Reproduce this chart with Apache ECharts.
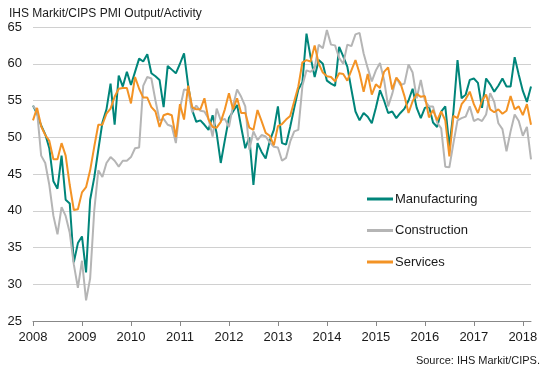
<!DOCTYPE html>
<html>
<head>
<meta charset="utf-8">
<script src="https://cdn.jsdelivr.net/npm/echarts@6/dist/echarts.min.js"></script>
<style>
html,body{margin:0;padding:0;background:#fff;}
#chart{width:550px;height:366px;}
</style>
</head>
<body>
<div id="chart"></div>
<script>
var years = [2008, 2009, 2010, 2011, 2012, 2013, 2014, 2015, 2016, 2017, 2018];
var lastYearMonths = 3;
var seriesNames = ['Manufacturing', 'Construction', 'Services'];
var seriesColors = ['#00857a', '#b5b5b5', '#f39325'];

var manufacturing = [
  54.3, 53.2, 51.6, 50.4, 48.5, 44.0, 43.0, 47.5, 41.5, 41.0, 33.0, 35.6,
  36.5, 31.6, 41.5, 44.5, 48.3, 52.0, 53.8, 57.3, 51.7, 58.4, 56.9, 58.9,
  57.1, 58.9, 60.7, 60.3, 61.3, 58.7, 58.3, 57.8, 54.1, 59.7, 59.2, 58.7,
  60.0, 61.4, 57.1, 53.7, 52.1, 52.3, 51.7, 51.0, 53.0, 50.5, 46.5, 49.6,
  52.6, 53.5, 54.4, 51.4, 48.5, 50.0, 43.5, 49.2, 48.0, 47.1, 49.5, 51.0,
  54.2, 49.2, 49.0, 51.4, 54.0, 56.5, 57.5, 64.1, 60.9, 58.2, 60.5, 60.0,
  57.7, 57.3, 57.0, 62.3, 61.0, 59.6, 56.5, 53.5, 52.3, 53.3, 52.8, 51.9,
  54.0, 56.4, 55.0, 53.3, 53.5, 52.6, 53.3, 53.9, 55.0, 56.6, 54.0, 52.6,
  54.0, 54.2, 52.0, 51.4, 53.5, 54.2, 48.7, 53.5, 60.5, 55.3, 55.8, 57.8,
  58.0, 57.4, 54.0, 58.0, 57.2, 56.2, 57.0, 58.0, 56.9, 56.9, 60.9, 58.5,
  56.3, 54.8, 56.9
];
var construction = [
  54.3, 53.5, 47.5, 46.5, 43.5, 39.3, 36.8, 40.5, 39.3, 37.0, 32.7, 29.5,
  33.2, 27.8, 30.8, 40.0, 45.5, 44.6, 46.5, 47.3, 46.8, 46.0, 46.8, 46.8,
  47.3, 48.5, 48.6, 57.0, 58.2, 58.0, 55.0, 52.3, 52.5, 51.7, 51.5, 49.2,
  53.9, 56.5, 56.4, 53.4, 54.3, 53.6, 53.5, 52.5, 50.1, 53.9, 52.3, 52.5,
  51.4, 54.3, 56.5, 55.5, 54.2, 48.3, 50.8, 49.6, 50.3, 50.1, 49.3, 48.7,
  48.6, 46.8, 47.2, 49.4, 50.8, 51.0, 57.0, 59.1, 58.9, 59.4, 62.6, 62.1,
  64.6, 62.6, 62.5, 60.8, 60.0, 62.6, 62.4, 64.0, 64.2, 61.4, 59.4, 57.6,
  59.1, 60.1, 57.8, 54.2, 55.9, 58.1, 57.1, 57.3, 59.9, 58.8, 55.3, 57.8,
  55.0, 54.2, 54.2, 52.0, 51.2, 46.0, 45.9, 49.2, 52.3, 52.6, 52.8, 54.2,
  52.2, 52.5, 52.2, 53.1, 56.0, 54.8, 51.9, 51.1, 48.1, 50.8, 53.1, 52.2,
  50.2, 51.4, 47.0
];
var services = [
  52.3, 54.0, 51.5, 50.3, 49.5, 47.0, 47.0, 49.2, 47.5, 43.5, 40.1, 40.2,
  42.5, 43.2, 45.5, 48.7, 51.7, 51.7, 53.2, 53.9, 55.5, 56.6, 56.7, 56.7,
  54.6, 58.2, 56.6, 55.4, 55.4, 54.1, 53.5, 51.4, 53.0, 53.2, 53.0, 50.0,
  54.5, 52.4, 57.0, 54.1, 53.8, 53.8, 55.3, 52.4, 51.4, 51.3, 52.1, 53.8,
  56.0, 53.8, 55.3, 53.3, 53.3, 51.3, 51.0, 53.7, 52.2, 50.6, 50.2, 48.9,
  51.5, 51.8, 52.4, 52.9, 54.9, 56.9, 60.2, 60.5, 60.3, 62.5, 60.0, 58.8,
  58.3, 58.2, 57.6, 58.7, 58.6, 57.7, 59.1, 60.5, 58.7, 56.2, 58.6, 55.8,
  57.2, 56.7, 58.9, 59.5, 56.5, 58.1, 57.4, 55.6, 53.3, 54.9, 55.9, 55.5,
  55.6, 52.7, 53.7, 52.3, 53.5, 52.3, 47.4, 52.9, 52.6, 54.5, 55.2, 56.2,
  54.5, 53.3, 55.0, 55.8, 53.8, 53.4, 53.8, 53.2, 53.6, 55.6, 53.8, 54.2,
  53.0, 54.5, 51.7
];

var months = [];
years.forEach(function (y, i) {
  var n = (i === years.length - 1) ? lastYearMonths : 12;
  for (var m = 1; m <= n; m++) months.push(y + '-' + (m < 10 ? '0' + m : m));
});

var FONT = 'Arial, "Liberation Sans", sans-serif';
var chart = echarts.init(document.getElementById('chart'), null, {renderer: 'canvas'});
var yearStart = function (idx) { return idx % 12 === 0; };

chart.setOption({
  animation: false,
  backgroundColor: '#fff',
  title: [
    {text: 'IHS Markit/CIPS PMI Output/Activity', left: 4, top: 3,
     textStyle: {fontFamily: FONT, fontSize: 12, fontWeight: 'normal', color: '#1a1a1a'}},
    {text: 'Source: IHS Markit/CIPS.', right: 5, top: 350,
     textStyle: {fontFamily: FONT, fontSize: 11, fontWeight: 'normal', color: '#1a1a1a'}}
  ],
  legend: {
    orient: 'vertical', left: 367, top: 192, padding: 0,
    itemWidth: 26, itemHeight: 3, itemGap: 17.5,
    icon: 'rect',
    textStyle: {fontFamily: FONT, fontSize: 13, color: '#1a1a1a', lineHeight: 14, padding: [0, 0, 0, -3]},
    data: seriesNames
  },
  grid: {left: 33, right: 19, top: 27, bottom: 45, containLabel: false},
  xAxis: {
    type: 'category', data: months, boundaryGap: false,
    axisLine: {lineStyle: {color: '#888', width: 1}},
    axisTick: {show: true, interval: yearStart, length: 5, lineStyle: {color: '#888'}},
    axisLabel: {interval: yearStart, formatter: function (v) { return v.slice(0, 4); },
      fontFamily: FONT, fontSize: 13, color: '#1a1a1a', margin: 10},
    splitLine: {show: false}
  },
  yAxis: {
    type: 'value', min: 25, max: 65, interval: 5,
    axisLine: {show: false}, axisTick: {show: false},
    axisLabel: {fontFamily: FONT, fontSize: 13, color: '#1a1a1a', margin: 11},
    splitLine: {lineStyle: {color: '#d0d0d0', width: 1}}
  },
  series: [
    {name: seriesNames[0], type: 'line', data: manufacturing, showSymbol: false,
     lineStyle: {width: 2, color: seriesColors[0]}, itemStyle: {color: seriesColors[0]}},
    {name: seriesNames[1], type: 'line', data: construction, showSymbol: false,
     lineStyle: {width: 2, color: seriesColors[1]}, itemStyle: {color: seriesColors[1]}},
    {name: seriesNames[2], type: 'line', data: services, showSymbol: false,
     lineStyle: {width: 2, color: seriesColors[2]}, itemStyle: {color: seriesColors[2]}}
  ]
});
</script>
</body>
</html>
